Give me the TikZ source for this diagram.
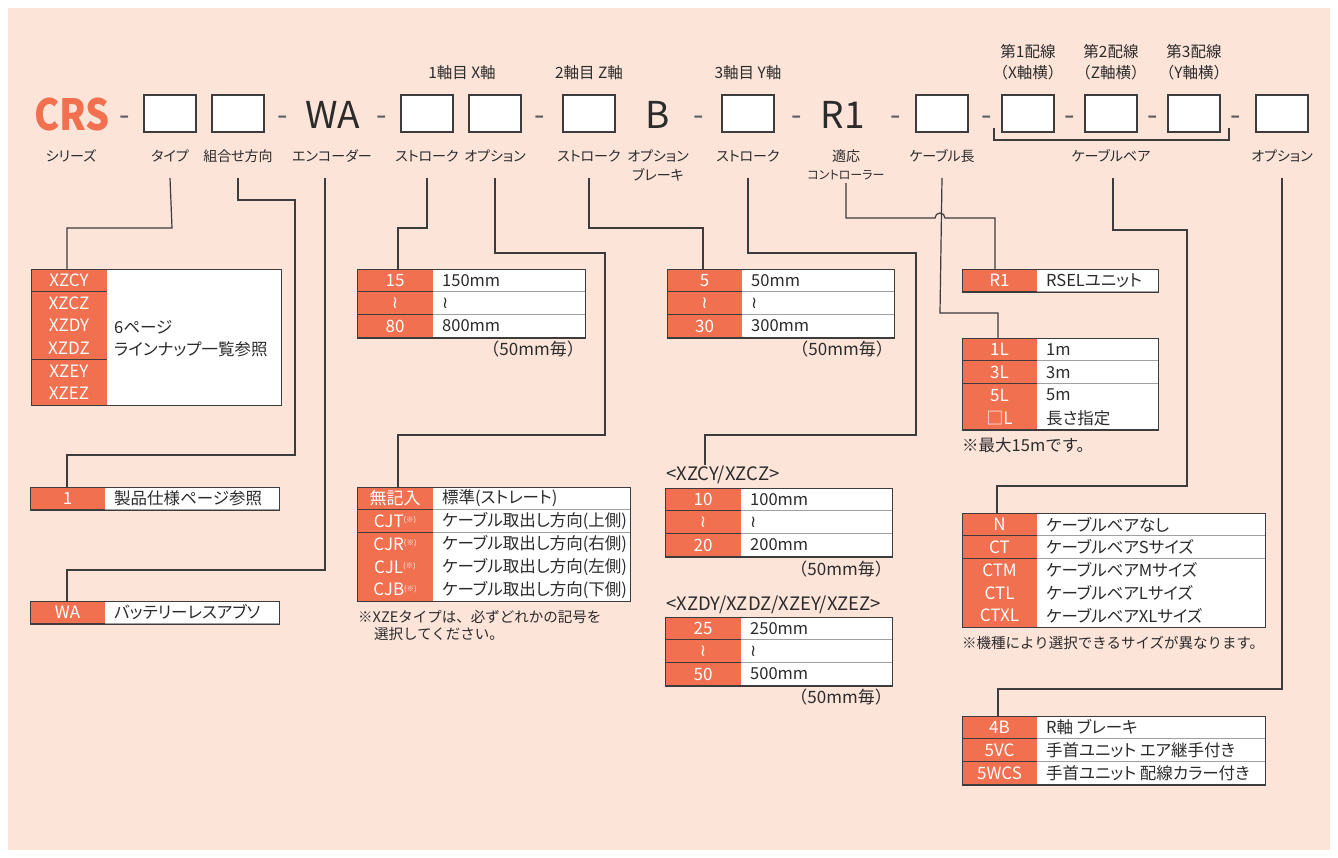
\documentclass[tikz,border=0pt]{standalone}
\usepackage{fontspec}
\setmainfont{Noto Sans CJK JP}[RawFeature=+palt]
\newfontfamily\jpfull{Noto Sans CJK JP}
\newfontfamily\dejavu{DejaVu Sans}
\usetikzlibrary{calc}
\definecolor{peach}{HTML}{FCE4D9}
\definecolor{org}{HTML}{F07050}
\definecolor{ink}{HTML}{2B2B2B}
\definecolor{rule}{HTML}{3C3C3C}
\definecolor{lgray}{HTML}{A0A0A0}
\definecolor{dashc}{HTML}{5E5E5E}
\def\rh{22.8}
\newcommand\wave{{\dejavu ≀}}
\newcommand\kome{\raisebox{4.5pt}{\fontsize{7.5}{7.5}\selectfont(※)}}
% #1 name, #2 left, #3 split, #4 right, #5 top, #6 number of rows, #7 rows code/desc
\newcommand\ctab[7]{%
  \foreach \c/\d [count=\i from 0] in {#7} {
    \pgfmathsetmacro\ya{#5+\i*\rh}
    \pgfmathsetmacro\yb{#5+(\i+1)*\rh}
    \fill[org] (#2,\ya) rectangle (#3,\yb);
    \fill[white] (#3,\ya) rectangle (#4,\yb);
    \draw[sepline] (#2,\yb) -- (#3,\yb);
    \draw[sepline,lgray] (#3,\yb) -- (#4,\yb);
    \node[codetxt] (#1-c\i) at ({(#2+#3)/2},{(\ya+\yb)/2}) {\c};
    \node[desctxt] (#1-d\i) at ({#3+9},{(\ya+\yb)/2}) {\d};
  }
  \node[tabframe, minimum width={(#4-#2)*1pt}, minimum height={#6*\rh*1pt}] (#1) at (#2,#5) {};
}
\begin{document}
\begin{tikzpicture}[x=1pt,y=-1pt,
  conn/.style={draw=rule, line width=1.2pt},
  pbox/.style={draw=rule, line width=1.3pt, fill=white, minimum width=52pt, minimum height=37pt, inner sep=0pt},
  lbl/.style={text=ink, font=\fontsize{14}{16}\selectfont, inner sep=0pt},
  toplbl/.style={text=ink, font=\jpfull\fontsize{15.5}{17}\selectfont, inner sep=0pt},
  small/.style={text=ink, font=\fontsize{12}{14}\selectfont, inner sep=0pt},
  big/.style={text=ink, font=\fontsize{37}{37}\selectfont, inner sep=0pt},
  sepdash/.style={text=dashc, font=\fontsize{30}{30}\selectfont, inner sep=0pt, anchor=base},
  codetxt/.style={text=white, font=\fontsize{17}{18}\selectfont, inner sep=0pt},
  desctxt/.style={text=ink, font=\fontsize{16.5}{18}\selectfont, inner sep=0pt, anchor=west},
  note/.style={text=ink, font=\jpfull\fontsize{14.5}{16}\selectfont, inner sep=0pt},
  latnote/.style={text=ink, font=\jpfull\fontsize{17}{18}\selectfont, inner sep=0pt},
  sepline/.style={draw=rule, line width=0.9pt},
  tabframe/.style={draw=rule, line width=1.3pt, inner sep=0pt, anchor=north west},
]
\useasboundingbox (0,0) rectangle (1338,858);
\fill[white] (0,0) rectangle (1338,858);
\fill[peach] (8,8) rectangle (1330,850);

% ---------- header row ----------
\node[text=org, font=\fontsize{43}{43}\selectfont\bfseries, inner sep=0pt] (crs) at (72,115) {\scalebox{0.88}[1]{CRS}};
\foreach \x [count=\k] in {125,283,382,540,699,797,896,987,1070,1153,1236}
  \node[sepdash] (dash\k) at (\x,125.5) {-};
\node[pbox] (b1) at (170,113.5) {};
\node[pbox] (b2) at (238,113.5) {};
\node[big] (wa) at (333,115) {WA};
\node[pbox] (b3) at (427,113.5) {};
\node[pbox] (b4) at (495,113.5) {};
\node[pbox] (b5) at (589,113.5) {};
\node[big] (bb) at (658,115) {B};
\node[pbox] (b6) at (748,113.5) {};
\node[big] (r1) at (843,115) {R1};
\node[pbox] (b7) at (942,113.5) {};
\node[pbox] (b8) at (1028,113.5) {};
\node[pbox] (b9) at (1111,113.5) {};
\node[pbox] (b10) at (1194,113.5) {};
\node[pbox] (b11) at (1282,113.5) {};
\draw[conn] (994,128) -- (994,140) -- (1229,140) -- (1229,128);

% top labels
\node[toplbl] (tx) at (462,73) {1軸目 X軸};
\node[toplbl] (tz) at (589,73) {2軸目 Z軸};
\node[toplbl] (ty) at (748,73) {3軸目 Y軸};
\node[toplbl] (w1) at (1028,52) {第1配線};
\node[toplbl] (w1b) at (1028,73) {（X軸横）};
\node[toplbl] (w2) at (1111,52) {第2配線};
\node[toplbl] (w2b) at (1111,73) {（Z軸横）};
\node[toplbl] (w3) at (1194,52) {第3配線};
\node[toplbl] (w3b) at (1194,73) {（Y軸横）};

% bottom labels
\node[lbl] (l1) at (71,156) {シリーズ};
\node[lbl] (l2) at (170,156) {タイプ};
\node[lbl] (l3) at (238,156) {組合せ方向};
\node[lbl] (l4) at (332,156) {エンコーダー};
\node[lbl] (l5) at (427,156) {ストローク};
\node[lbl] (l6) at (495,156) {オプション};
\node[lbl] (l7) at (589,156) {ストローク};
\node[lbl] (l8) at (658,156) {オプション};
\node[lbl] (l8b) at (658,175) {ブレーキ};
\node[lbl] (l9) at (748,156) {ストローク};
\node[lbl] (l10) at (846,156) {適応};
\node[small] (l10b) at (846,175) {コントローラー};
\node[lbl] (l11) at (942,156) {ケーブル長};
\node[lbl] (l12) at (1111,156) {ケーブルベア};
\node[lbl] (l13) at (1282,156) {オプション};

% ---------- tables ----------
% series type table (merged description)
\foreach \c [count=\i from 0] in {XZCY,XZCZ,XZDY,XZDZ,XZEY,XZEZ} {
  \pgfmathsetmacro\ya{269+\i*22.67}
  \pgfmathsetmacro\yb{269+(\i+1)*22.67}
  \fill[org] (31,\ya) rectangle (107,\yb);
  \draw[sepline] (31,\yb) -- (107,\yb);
  \node[codetxt] (tXZ-c\i) at (69,{(\ya+\yb)/2}) {\c};
}
\fill[white] (107,269) rectangle (281,405);
\node[desctxt] (tXZ-d1) at (114,327) {6ページ};
\node[desctxt] (tXZ-d2) at (114,349) {ラインナップ一覧参照};
\node[tabframe, minimum width=250pt, minimum height=136pt] (tXZ) at (31,269) {};

\ctab{t1}{30}{105}{279}{487}{1}{1/製品仕様ページ参照}
\ctab{tWA}{30}{105}{279}{601}{1}{WA/バッテリーレスアブソ}
\ctab{tSX}{357}{433}{585}{269}{3}{15/150mm,\wave/\wave,80/800mm}
\ctab{tOX}{357}{433}{630}{487}{5}{無記入/標準(ストレート),{CJT\kome}/ケーブル取出し方向(上側),{CJR\kome}/ケーブル取出し方向(右側),{CJL\kome}/ケーブル取出し方向(左側),{CJB\kome}/ケーブル取出し方向(下側)}
\ctab{tSZ}{667}{742}{894}{269}{3}{5/50mm,\wave/\wave,30/300mm}
\ctab{tSY1}{665}{741}{892}{488}{3}{10/100mm,\wave/\wave,20/200mm}
\ctab{tSY2}{665}{741}{892}{617}{3}{25/250mm,\wave/\wave,50/500mm}
\ctab{tR1}{962}{1037}{1158}{269}{1}{R1/RSELユニット}
\ctab{tLen}{962}{1037}{1158}{338}{4}{1L/1m,3L/3m,5L/5m,□L/長さ指定}
\ctab{tCB}{962}{1037}{1265}{513}{5}{N/ケーブルベアなし,CT/ケーブルベアSサイズ,CTM/ケーブルベアMサイズ,CTL/ケーブルベアLサイズ,CTXL/ケーブルベアXLサイズ}
\ctab{tOp}{962}{1037}{1265}{716}{3}{4B/R軸 ブレーキ,5VC/手首ユニット エア継手付き,5WCS/手首ユニット 配線カラー付き}

% notes
\node[latnote, anchor=east] (n1) at (584,349) {（50mm毎）};
\node[latnote, anchor=east] (n2) at (893,349) {（50mm毎）};
\node[latnote, font=\jpfull\fontsize{18.5}{19}\selectfont, anchor=west] (n3) at (666,475) {<XZCY/XZCZ>};
\node[latnote, anchor=east] (n4) at (892,569) {（50mm毎）};
\node[latnote, font=\jpfull\fontsize{18.5}{19}\selectfont, anchor=west] (n5) at (666,605) {<XZDY/XZDZ/XZEY/XZEZ>};
\node[latnote, anchor=east] (n6) at (892,697) {（50mm毎）};
\node[note, anchor=west] (n7) at (358,617) {※XZEタイプは、必ずどれかの記号を};
\node[note, anchor=west] (n8) at (374,634) {選択してください。};
\node[note, font=\jpfull\fontsize{16.5}{18}\selectfont, anchor=west] (n9) at (962,445) {※最大15mです。};
\node[note, anchor=west] (n10) at (962,643) {※機種により選択できるサイズが異なります。};

% ---------- connectors ----------
\coordinate (ytop) at (0,178);
\draw[conn] (b1 |- ytop) -- (172,228) -- (67,228) -- (67,269);
\draw[conn] (b2 |- ytop) -- (238,200) -- (295,200) -- (295,455) -- (67,455) -- (67,487);
\draw[conn] (wa |- ytop) ++(-8,0) -- (325,570) -- (67,570) -- (67,601);
\draw[conn] (b3 |- ytop) -- (427,228) -- (398,228) -- (398,269);
\draw[conn] (b4 |- ytop) -- (495,253) -- (605,253) -- (605,435) -- (398,435) -- (398,487);
\draw[conn] (b5 |- ytop) -- (589,228) -- (703,228) -- (703,269);
\draw[conn] (b6 |- ytop) -- (748,253) -- (916,253) -- (916,435) -- (705,435) -- (705,465);
\draw[conn] (l10b.south) ++(0,3) -- (846,218) -- (935,218) arc[start angle=180, end angle=0, radius=5pt] -- (995,218) -- (995,269);
\draw[conn] (b7 |- ytop) -- (940,313) -- (998,313) -- (998,338);
\draw[conn] (b9 |- ytop) ++(2,0) -- (1113,230) -- (1187,230) -- (1187,486) -- (997,486) -- (997,513);
\draw[conn] (b11 |- ytop) -- (1282,689) -- (998,689) -- (998,716);
\end{tikzpicture}
\end{document}
